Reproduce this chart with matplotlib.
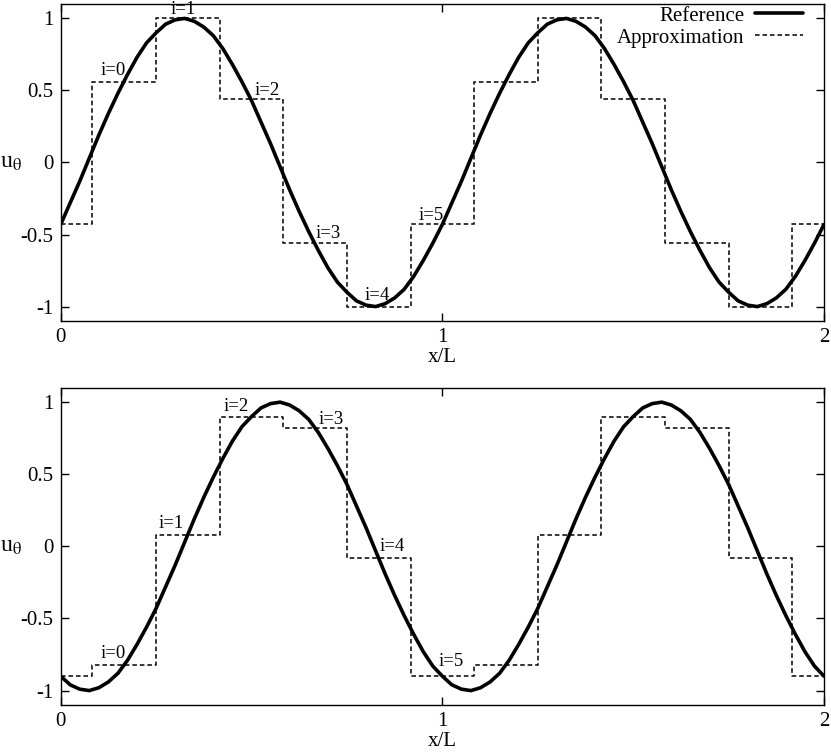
import matplotlib
matplotlib.use("Agg")
import matplotlib.pyplot as plt
import numpy as np

plt.rcParams['font.family'] = ['Liberation Serif', 'DejaVu Serif']
plt.rcParams['mathtext.fontset'] = 'stix'
plt.rcParams['axes.unicode_minus'] = False

# Curva de referencia (paso 0.025 en x/L)
x_ref = np.linspace(0, 2, 81)
ref_top = [-0.43, -0.28, -0.13, 0.03, 0.19, 0.34, 0.48, 0.61, 0.73, 0.83,
           0.90, 0.96, 0.99, 1.00, 0.98, 0.94, 0.88, 0.79, 0.68, 0.56,
           0.43, 0.28, 0.13, -0.03, -0.19, -0.34, -0.48, -0.61, -0.73, -0.83,
           -0.90, -0.96, -0.99, -1.00, -0.98, -0.94, -0.88, -0.79, -0.68, -0.56,
           -0.43, -0.28, -0.13, 0.03, 0.19, 0.34, 0.48, 0.61, 0.73, 0.83,
           0.90, 0.96, 0.99, 1.00, 0.98, 0.94, 0.88, 0.79, 0.68, 0.56,
           0.43, 0.28, 0.13, -0.03, -0.19, -0.34, -0.48, -0.61, -0.73, -0.83,
           -0.90, -0.96, -0.99, -1.00, -0.98, -0.94, -0.88, -0.79, -0.68, -0.56,
           -0.43]
ref_bot = [-0.90, -0.96, -0.99, -1.00, -0.98, -0.94, -0.88, -0.79, -0.68, -0.56,
           -0.43, -0.28, -0.13, 0.03, 0.19, 0.34, 0.48, 0.61, 0.73, 0.83,
           0.90, 0.96, 0.99, 1.00, 0.98, 0.94, 0.88, 0.79, 0.68, 0.56,
           0.43, 0.28, 0.13, -0.03, -0.19, -0.34, -0.48, -0.61, -0.73, -0.83,
           -0.90, -0.96, -0.99, -1.00, -0.98, -0.94, -0.88, -0.79, -0.68, -0.56,
           -0.43, -0.28, -0.13, 0.03, 0.19, 0.34, 0.48, 0.61, 0.73, 0.83,
           0.90, 0.96, 0.99, 1.00, 0.98, 0.94, 0.88, 0.79, 0.68, 0.56,
           0.43, 0.28, 0.13, -0.03, -0.19, -0.34, -0.48, -0.61, -0.73, -0.83,
           -0.90]

# Aproximacion por celdas (6 celdas por periodo)
step_edges = [0, 1/12, 3/12, 5/12, 7/12, 9/12, 11/12, 13/12,
              15/12, 17/12, 19/12, 21/12, 23/12, 2]
step_top = [-0.43, 0.56, 1.0, 0.44, -0.56, -1.0, -0.43,
            0.56, 1.0, 0.44, -0.56, -1.0, -0.43]
step_bot = [-0.90, -0.82, 0.08, 0.90, 0.82, -0.08, -0.90,
            -0.82, 0.08, 0.90, 0.82, -0.08, -0.90]

# Etiquetas de celda
cell_names = ['i=0', 'i=1', 'i=2', 'i=3', 'i=4', 'i=5']
lab_x_top = [0.137, 0.32, 0.54, 0.70, 0.83, 0.97]
lab_y_top = [0.64, 1.06, 0.50, -0.49, -0.92, -0.37]
lab_x_bot = [0.138, 0.29, 0.459, 0.708, 0.869, 1.023]
lab_y_bot = [-0.74, 0.16, 0.97, 0.88, 0.0, -0.80]

x_ticks = [0, 1, 2]
y_ticks = [-1, -0.5, 0, 0.5, 1]
y_tick_labels = ['-1', '-0.5', '0', '0.5', '1']

fig = plt.figure(figsize=(8.31, 7.53), dpi=100)
ax1 = fig.add_axes([0.0730, 0.5737, 0.9186, 0.4210])
ax2 = fig.add_axes([0.0730, 0.0637, 0.9186, 0.4214])


def draw_panel(ax, ref, steps, lx, ly, legend=False):
    ax.plot(x_ref, ref, color='black', lw=2.6, label='Reference', zorder=3,
            solid_joinstyle='round', solid_capstyle='round')
    ax.step(step_edges, steps + [steps[-1]], where='post', color='black',
            lw=1.1, linestyle=(0, (3.0, 1.9)), label='Approximation')
    for name, x, y in zip(cell_names, lx, ly):
        ax.text(x, y, name, ha='center', va='center', fontsize=13.5)
    ax.set_xlim(0, 2)
    ax.set_ylim(-1.1, 1.1)
    ax.set_xticks(x_ticks)
    ax.set_xticklabels([str(t) for t in x_ticks])
    ax.set_yticks(y_ticks)
    ax.set_yticklabels(y_tick_labels)
    ax.tick_params(direction='in', length=6, width=1, labelsize=15,
                   top=True, right=True, pad=5)
    for sp in ax.spines.values():
        sp.set_linewidth(1.0)
    ax.set_xlabel('x/L', fontsize=15, labelpad=1)
    ax.set_ylabel(r'u$_{\mathrm{\theta}}$', fontsize=17, rotation=0,
                  ha='center', va='center')
    ax.yaxis.set_label_coords(-0.065, 0.5)
    if legend:
        ax.legend(loc='upper right', bbox_to_anchor=(0.975, 1.0), frameon=False,
                  markerfirst=False, fontsize=15, handlelength=2.3,
                  handletextpad=0.5, labelspacing=0.12, borderaxespad=0.0,
                  borderpad=0.1)


draw_panel(ax1, ref_top, step_top, lab_x_top, lab_y_top, legend=True)
draw_panel(ax2, ref_bot, step_bot, lab_x_bot, lab_y_bot)

fig.savefig('out.png', dpi=100)
